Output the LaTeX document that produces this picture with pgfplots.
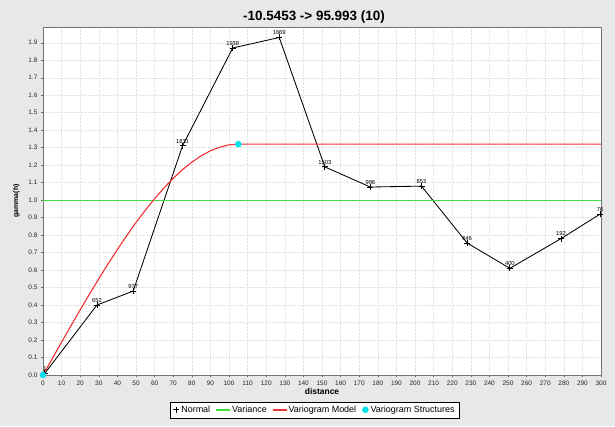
\documentclass[border=0pt]{standalone}
\usepackage{pgfplots}
\pgfplotsset{compat=1.18}
\usepackage{fontspec}
\setmainfont{Liberation Sans}
\definecolor{bg}{RGB}{232,232,232}
\definecolor{vgreen}{RGB}{60,225,60}
\definecolor{vred}{RGB}{240,50,50}
\definecolor{vcyan}{RGB}{0,225,235}
\begin{document}
\begin{tikzpicture}[x=1bp,y=1bp]
\fill[bg] (0,0) rectangle (615,426);
\useasboundingbox (0,0) rectangle (615,426);
\node[font=\bfseries\fontsize{13.5}{15}\selectfont] at (314,409) {-10.5453 -> 95.993 (10)};
\begin{axis}[
  at={(43bp,51bp)}, anchor=south west,
  scale only axis, width=558bp, height=348bp,
  xmin=0, xmax=300, ymin=0, ymax=1.99,
  axis background/.style={fill=white},
  xtick={0,10,...,300},
  ytick={0,0.1,...,1.9},
  yticklabel style={/pgf/number format/.cd, fixed, fixed zerofill, precision=1},
  /pgf/number format/assume math mode=true,
  tick label style={font=\fontsize{6.5}{7}\selectfont, text=black!85},
  tick style={black!60, thin}, tick align=outside, major tick length=2bp,
  xtick pos=bottom, ytick pos=left,
  grid=major, grid style={gray!22, densely dotted, line width=0.4pt},
  axis line style={black!55, line width=0.5pt},
  xlabel={distance}, ylabel={gamma(h)},
  xlabel style={font=\bfseries\fontsize{8.5}{9}\selectfont, at={(axis description cs:0.5,0)}, anchor=center, yshift=-16bp},
  ylabel style={font=\bfseries\fontsize{7}{8}\selectfont, anchor=center},
  every axis y label/.append style={at={(axis description cs:-0.048,0.5)}},
  legend columns=4,
  legend style={at={(axis description cs:0.487,-0.10)}, anchor=center,
    font=\fontsize{9}{10.5}\selectfont,
    /tikz/every even column/.append style={column sep=4bp}},
  legend cell align=left,
  clip=false,
]
\addplot[black, line width=0.85pt, mark=+, mark size=3bp,
  nodes near coords, point meta=explicit symbolic,
  every node near coord/.append style={font=\fontsize{5.8}{6}\selectfont, black, yshift=-1bp},
  legend image code/.code={\draw[black, line width=0.8pt] (0.2cm,-0.1cm) -- (0.2cm,0.1cm) (0.1cm,0cm) -- (0.3cm,0cm);}]
  table[meta=lab] {
x y lab
1 0.01 1
29 0.40 652
48.5 0.48 977
75 1.31 1831
102 1.87 1938
127 1.93 1669
151.5 1.19 1503
176 1.075 998
203.5 1.08 853
228 0.755 646
251 0.61 400
278.5 0.78 192
299.5 0.92 76
};
\addlegendentry{Normal}
\addplot[color=vgreen, line width=1.1pt, no marks,
  legend image code/.code={\fill[vgreen] (0cm,-0.6bp) rectangle (0.45cm,0.6bp);}] coordinates {(0,1.0) (300,1.0)};
\addlegendentry{Variance}
\addplot[color=vred, line width=1.1pt, no marks,
  legend image code/.code={\fill[vred] (0cm,-0.6bp) rectangle (0.45cm,0.6bp);}] coordinates {
(0,0) (5,0.094) (10,0.188) (15,0.281) (20,0.373) (25,0.463) (30,0.550) (35,0.636) (40,0.718) (45,0.797) (50,0.872) (55,0.942) (60,1.008)
(65,1.069) (70,1.125) (75,1.174) (80,1.217) (85,1.253) (90,1.282) (95,1.303) (100,1.316) (105,1.32) (300,1.32)};
\addlegendentry{Variogram Model}
\addplot[only marks, mark=*, mark size=3bp, color=vcyan,
  legend image code/.code={\fill[vcyan] (0.2cm,0cm) circle (3bp);}] coordinates {(0,0) (105,1.32)};
\addlegendentry{Variogram Structures}
\end{axis}
\end{tikzpicture}
\end{document}
